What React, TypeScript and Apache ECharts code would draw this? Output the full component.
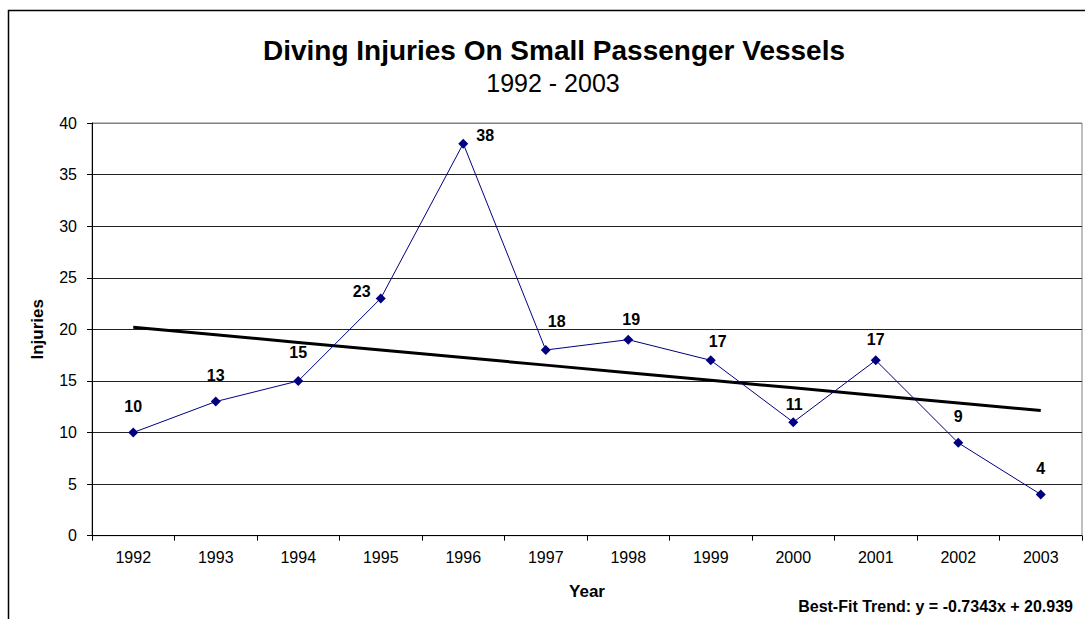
import React, { useEffect, useRef } from "react";
import * as echarts from "echarts";

const years = ["1992", "1993", "1994", "1995", "1996", "1997", "1998", "1999", "2000", "2001", "2002", "2003"];
const injuries = [10, 13, 15, 23, 38, 18, 19, 17, 11, 17, 9, 4];
const trendSlope = -0.7343;
const trendIntercept = 20.939;
const labelOffsets: [number, number][] = [
  [0, -26], [0, -26], [0, -28], [-19, -7], [22, -8], [11, -28],
  [3, -20], [7, -19], [1, -18], [0, -21], [0, -26], [0, -26],
];

const FONT = "'Liberation Sans', Arial, sans-serif";

export default function App() {
  const ref = useRef<HTMLDivElement>(null);
  useEffect(() => {
    if (!ref.current) return;
    const chart = echarts.init(ref.current, undefined, { renderer: "svg" });
    const trend = years.map((_, i) => +(trendSlope * (i + 1) + trendIntercept).toFixed(4));
    chart.setOption({
      animation: false,
      backgroundColor: "#fff",
      textStyle: { fontFamily: FONT },
      grid: {
        left: 92, top: 123, right: 3, bottom: 83.3,
        show: true, borderColor: "#808080", borderWidth: 1, backgroundColor: "transparent",
      },
      xAxis: {
        type: "category",
        data: years,
        boundaryGap: true,
        name: "Year",
        nameLocation: "middle",
        nameGap: 47,
        nameTextStyle: { fontFamily: FONT, fontWeight: "bold", fontSize: 17, color: "#000" },
        axisLine: { lineStyle: { color: "#000", width: 1 } },
        axisTick: { show: true, length: 5, lineStyle: { color: "#000" } },
        axisLabel: { color: "#000", fontSize: 16, fontFamily: FONT, margin: 14 },
        splitLine: { show: false },
      },
      yAxis: {
        type: "value",
        min: 0, max: 40, interval: 5,
        name: "Injuries",
        nameLocation: "middle",
        nameGap: 46,
        nameTextStyle: { fontFamily: FONT, fontWeight: "bold", fontSize: 17, color: "#000" },
        axisLine: { show: true, lineStyle: { color: "#000", width: 1 } },
        axisTick: { show: true, length: 5, lineStyle: { color: "#000" } },
        axisLabel: { color: "#000", fontSize: 16, fontFamily: FONT, margin: 15 },
        splitLine: {
          show: true,
          lineStyle: {
            color: ["#222", "#222", "#222", "#222", "#222", "#222", "#222", "#222", "#808080"],
            width: 1,
          },
        },
      },
      series: [
        {
          type: "line",
          data: trend,
          symbol: "none",
          lineStyle: { color: "#000", width: 3 },
          silent: true,
          z: 2,
        },
        {
          type: "line",
          data: injuries.map((v, i) => ({
            value: v,
            label: { offset: labelOffsets[i] },
          })),
          symbol: "diamond",
          symbolSize: 10,
          itemStyle: { color: "#000080" },
          lineStyle: { color: "#000080", width: 1 },
          z: 3,
          label: {
            show: true,
            position: "inside",
            color: "#000",
            fontWeight: "bold",
            fontSize: 16,
            fontFamily: FONT,
          },
        },
      ],
      graphic: [
        {
          type: "rect",
          shape: { x: 8.5, y: 10.5, width: 1200, height: 800 },
          style: { fill: "none", stroke: "#000", lineWidth: 1.5 },
          silent: true,
          z: -1,
        },
        {
          type: "text",
          x: 554, y: 50,
          style: {
            text: "Diving Injuries On Small Passenger Vessels",
            font: `bold 28px ${FONT}`,
            fill: "#000",
            textAlign: "center",
            textVerticalAlign: "middle",
          },
        },
        {
          type: "text",
          x: 553, y: 83,
          style: {
            text: "1992 - 2003",
            font: `25px ${FONT}`,
            fill: "#000",
            textAlign: "center",
            textVerticalAlign: "middle",
          },
        },
        {
          type: "text",
          x: 1073, y: 606,
          style: {
            text: "Best-Fit Trend: y = -0.7343x + 20.939",
            font: `bold 16px ${FONT}`,
            fill: "#000",
            textAlign: "right",
            textVerticalAlign: "middle",
          },
        },
      ],
    });
    return () => chart.dispose();
  }, []);
  return (
    <div
      ref={ref}
      style={{ position: "absolute", left: 0, top: 0, width: 1085, height: 619 }}
    />
  );
}
